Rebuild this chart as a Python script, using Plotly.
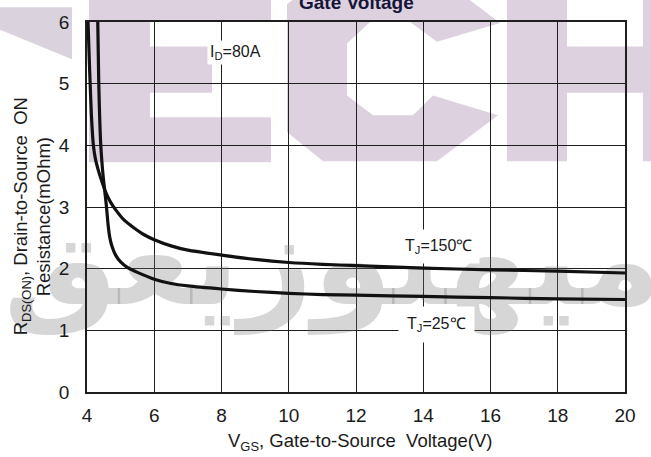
import plotly.graph_objects as go

# ---- data ----
vgs_150 = [4.03, 4.08, 4.13, 4.19, 4.25, 4.34, 4.45, 4.57, 4.70, 4.86, 5.10, 5.35, 5.70, 6.0, 6.5, 7.0, 8.0, 9.0, 10.0, 11.0, 12.0, 14.0, 16.0, 18.0, 20.0]
rds_150 = [6.00, 5.20, 4.50, 4.00, 3.78, 3.59, 3.40, 3.22, 3.08, 2.95, 2.79, 2.68, 2.55, 2.47, 2.37, 2.30, 2.22, 2.15, 2.10, 2.07, 2.05, 2.01, 1.98, 1.96, 1.93]

vgs_25 = [4.32, 4.35, 4.41, 4.48, 4.54, 4.58, 4.63, 4.68, 4.75, 4.85, 5.0, 5.2, 5.5, 6.0, 6.5, 7.0, 8.0, 9.0, 10.0, 11.0, 12.0, 14.0, 16.0, 18.0, 20.0]
rds_25 = [6.00, 5.00, 4.00, 3.50, 3.20, 3.00, 2.70, 2.50, 2.35, 2.22, 2.11, 2.02, 1.94, 1.83, 1.76, 1.72, 1.67, 1.63, 1.60, 1.58, 1.57, 1.55, 1.53, 1.51, 1.50]

x_ticks = [4, 6, 8, 10, 12, 14, 16, 18, 20]
y_ticks = [0, 1, 2, 3, 4, 5, 6]

label_id = "I<sub>D</sub>=80A"
label_150 = "T<sub>J</sub>=150\u2103"
label_25 = "T<sub>J</sub>=25\u2103"
title_text = "<b>Gate Voltage</b>"
x_title = "V<sub>GS</sub>, Gate-to-Source\u00a0\u00a0Voltage(V)"
y_title1 = "R<sub>DS(ON)</sub>, Drain-to-Source\u00a0\u00a0ON"
y_title2 = "Resistance(mOhm)"
watermark_ar = "ميهتوزيعق"

# ---- geometry helpers (pixel -> paper) ----
W, H = 651, 457
L, R, T, B = 87, 26, 15, 65
PW, PH = W - L - R, H - T - B


def px(x):
    return (x - L) / PW


def py(y):
    return (H - B - y) / PH


def poly(points):
    s = "M " + " L ".join(f"{px(a):.5f},{py(b):.5f}" for a, b in points) + " Z"
    return s


pink = "#DDD1E0"
shapes = []
wm_polys = [
    ([(0, 0), (72, 0), (72, 53), (0, 23)], "#DAD3DE"),
    ([(89, -33), (271, -33), (271, 15), (150, 15), (150, 40), (212, 40), (212, 87),
      (150, 87), (150, 112), (271, 112), (271, 158), (89, 158)], pink),
    ([(287, -3), (323, -33), (437, -33), (500, 16), (437, 35), (410, 15), (370, 15),
      (347, 37), (347, 90), (373, 110), (413, 110), (433, 90), (498, 110), (437, 157),
      (323, 157), (287, 127)], pink),
    ([(507, -33), (567, -33), (567, 40), (643, 40), (643, -33), (703, -33), (703, 157),
      (643, 157), (643, 87), (567, 87), (567, 157), (507, 157)], pink),
]
for pts, col in wm_polys:
    shapes.append(dict(type="path", path=poly(pts), xref="paper", yref="paper",
                       fillcolor=col, line=dict(width=0), layer="below"))

fig = go.Figure()

# grey watermark text (under the curves)
fig.add_trace(go.Scatter(
    x=[11.3], y=[1.95], mode="text", text=[watermark_ar],
    textfont=dict(family="DejaVu Sans", size=128, weight="bold", color="rgba(120,120,120,0.30)"),
    textposition="middle center", cliponaxis=False, hoverinfo="skip", showlegend=False))

line_col = "#111111"
fig.add_trace(go.Scatter(x=vgs_150, y=rds_150, mode="lines",
                         line=dict(color=line_col, width=3.2, shape="spline", smoothing=0.6),
                         showlegend=False))
fig.add_trace(go.Scatter(x=vgs_25, y=rds_25, mode="lines",
                         line=dict(color=line_col, width=3.2, shape="spline", smoothing=0.6),
                         showlegend=False))

font_main = "Liberation Sans, Arial, sans-serif"
txt_col = "#1a1a1a"
grid_col = "#1e1e1e"

annotations = [
    dict(text=title_text, xref="paper", yref="paper", x=0.5, y=1.019, xanchor="center",
         yanchor="bottom", showarrow=False, font=dict(family=font_main, size=19, color="#15153a")),
    dict(text=label_id, x=7.58, y=5.5, xanchor="left", yanchor="middle", showarrow=False,
         bgcolor="white", borderpad=2, font=dict(family=font_main, size=16, color=txt_col)),
    dict(text=label_150, x=14.46, y=2.36, xanchor="center", yanchor="middle", showarrow=False,
         bgcolor="white", borderpad=7, font=dict(family=font_main, size=16, color=txt_col)),
    dict(text=label_25, x=14.4, y=1.1, xanchor="center", yanchor="middle", showarrow=False,
         bgcolor="white", borderpad=8, font=dict(family=font_main, size=16, color=txt_col)),
    dict(text=x_title, xref="paper", yref="paper", x=px(360), y=py(443), xanchor="center",
         yanchor="middle", showarrow=False, font=dict(family=font_main, size=18.5, color=txt_col)),
    dict(text=y_title1, xref="paper", yref="paper", x=px(22), y=py(213), xanchor="center",
         yanchor="middle", textangle=-90, showarrow=False,
         font=dict(family=font_main, size=18.5, color=txt_col)),
    dict(text=y_title2, xref="paper", yref="paper", x=px(43), y=py(214), xanchor="center",
         yanchor="middle", textangle=-90, showarrow=False,
         font=dict(family=font_main, size=18.5, color=txt_col)),
]

fig.update_layout(
    width=W, height=H,
    margin=dict(l=L, r=R, t=T, b=B, pad=0),
    paper_bgcolor="white",
    plot_bgcolor="rgba(0,0,0,0)",
    showlegend=False,
    shapes=shapes,
    annotations=annotations,
    xaxis=dict(range=[4, 20], tickvals=x_ticks, ticktext=[str(v) for v in x_ticks],
               showgrid=True, gridcolor=grid_col, gridwidth=1.3, zeroline=False,
               showline=True, mirror=True, linecolor=grid_col, linewidth=1.6,
               ticks="", ticklabelstandoff=5,
               tickfont=dict(family=font_main, size=19, color=txt_col)),
    yaxis=dict(range=[0, 6], tickvals=y_ticks, ticktext=[str(v) for v in y_ticks],
               showgrid=True, gridcolor=grid_col, gridwidth=1.3, zeroline=False,
               showline=True, mirror=True, linecolor=grid_col, linewidth=1.6,
               ticks="", ticklabelstandoff=12,
               tickfont=dict(family=font_main, size=19, color=txt_col)),
)

fig.write_html("out.html", config={"displayModeBar": False},
               post_script="document.body.style.margin='0';document.body.style.overflow='hidden';")
